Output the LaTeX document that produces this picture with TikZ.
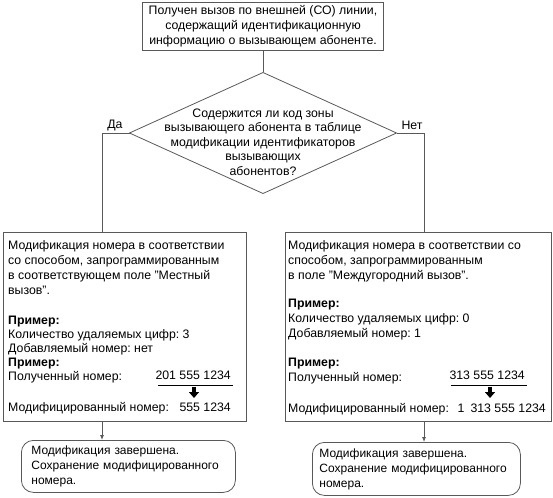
\documentclass[tikz,border=0pt]{standalone}
\usepackage{fontspec}
\setmainfont{Liberation Sans}
\usetikzlibrary{shapes.geometric,arrows.meta}
\frenchspacing
\newcommand\fsA{\fontsize{12.3}{15}\selectfont}
\newcommand\fsB{\fontsize{12.3}{14}\selectfont}
\newcommand\fsD{\fontsize{12.3}{14.5}\selectfont}
\newcommand\fsE{\fontsize{12}{15}\selectfont}
\tikzset{
  frame/.style={draw=black!65, line width=0.8pt},
  conn/.style={draw=black!65, line width=0.8pt},
  arr/.style={conn, -{Latex[length=5pt,width=4pt]}},
  uline/.style={draw=black, line width=0.8pt},
  blockarr/.style={draw=black, line width=4pt, -{Triangle[length=6pt,width=10pt]}},
  txt/.style={inner sep=0pt, anchor=north west, align=left, font=\fsA},
  endbox/.style={frame, rounded corners=12pt, anchor=north west, inner sep=0pt, text width=194pt, align=left, font=\fsE},
}
\begin{document}
\begin{tikzpicture}[x=1pt,y=-1pt]
\useasboundingbox (0,0) rectangle (553,497);
% top box
\node[frame, minimum width=241pt, minimum height=48pt, inner sep=0pt, align=center, font=\fsA] (start) at (263,26)
  {Получен вызов по внешней (СО) линии,\\ содержащий идентификационную\\ информацию о вызывающем абоненте.};
% decision
\node[frame, diamond, minimum width=267pt, minimum height=121pt, inner sep=0pt, outer sep=0pt] (dec) at (263,133) {};
\node[align=center, inner sep=0pt, font=\fsD] (dectext) at (263,142)
  {Содержится ли код зоны\\ вызывающего абонента в таблице\\ модификации идентификаторов\\ вызывающих\\ абонентов?};
\node[inner sep=0pt, font=\fsA] (yes) at (115,125) {Да};
\node[inner sep=0pt, font=\fsA] (no) at (412,125) {Нет};
% process boxes
\node[frame, anchor=north west, minimum width=243pt, minimum height=189pt, inner sep=0pt] (L) at (3,232) {};
\node[frame, anchor=north west, minimum width=266pt, minimum height=189pt, inner sep=0pt] (R) at (285,232) {};
\coordinate (lj) at (102,232);
\coordinate (rj) at (424,232);
% end boxes
\node[endbox, minimum width=214pt, minimum height=52pt] (F1) at (21,440)
  {Модификация завершена.\\ Сохранение модифицированного\\ номера.};
\node[endbox, minimum width=208pt, minimum height=53pt] (F2) at (312,442)
  {Модификация завершена.\\ Сохранение модифицированного\\ номера.};
% connectors
\draw[conn] (start.south) -- (dec.north);
\draw[conn] (dec.west) -| (lj);
\draw[conn] (dec.east) -| (rj);
\draw[arr] (lj |- L.south) -- (lj |- F1.north);
\draw[arr] (rj |- R.south) -- (rj |- F2.north);
% left content
\node[txt] (l1) at (8,240.5) {Модификация номера в соответствии\\ со способом, запрограммированным\\ в соответствующем поле "Местный\\ вызов".};
\node[txt, font=\fsB] (l2) at (8,315.5) {\textbf{Пример:}\\ Количество удаляемых цифр: 3\\ Добавляемый номер: нет\\ \textbf{Пример:}\\ Полученный номер:};
\node[txt, anchor=north east] (l3) at (231,370.5) {201 555 1234};
\draw[uline] (158,385) -- (233,385);
\draw[blockarr] (194,386.5) -- (194,398);
\node[txt] (l4) at (8,402.5) {Модифицированный номер:};
\node[txt, anchor=north east] (l5) at (231,402.5) {555 1234};
% right content
\node[txt] (r1) at (288,240.5) {Модификация номера в соответствии со\\ способом, запрограммированным\\ в поле "Междугородний вызов".};
\node[txt] (r2) at (288,298.5) {\textbf{Пример:}\\ Количество удаляемых цифр: 0\\ Добавляемый номер: 1};
\node[txt] (r3) at (288,357.5) {\textbf{Пример:}\\ Полученный номер:};
\node[txt, anchor=north east] (r4) at (525,370.5) {313 555 1234};
\draw[uline] (451,385) -- (527,385);
\draw[blockarr] (490,386.5) -- (490,398);
\node[txt] (r5) at (288,403.5) {Модифицированный номер:};
\node[txt, anchor=north east] (r6) at (546,403.5) {1\hspace{6pt}313 555 1234};
\end{tikzpicture}
\end{document}
